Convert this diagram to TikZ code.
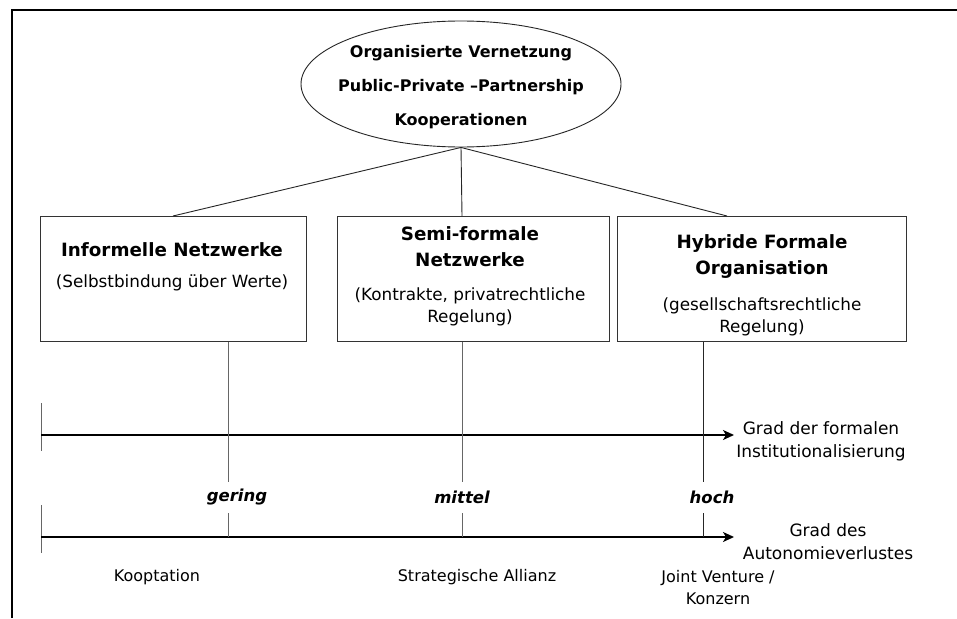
\documentclass[tikz,border=0pt]{standalone}
\usepackage{fontspec}
\setmainfont{DejaVu Sans}
\usetikzlibrary{arrows.meta,shapes.geometric}

\begin{document}
\begin{tikzpicture}[x=1pt,y=-1pt,
  frame/.style={line width=1.5pt,black},
  boxstyle/.style={draw=black!80,line width=0.9pt,rectangle,inner sep=0pt,anchor=north west},
  link/.style={draw=black!85,line width=0.9pt},
  tick/.style={draw=black!60,line width=0.9pt},
  axis/.style={draw=black,line width=1.7pt,-{Stealth[length=11pt,width=10pt,inset=3pt]}},
  titletext/.style={font=\bfseries\fontsize{18.3}{26}\selectfont,align=center,inner sep=0pt},
  subtext/.style={font=\fontsize{16.8}{22}\selectfont,align=center,inner sep=0pt},
  levtext/.style={font=\bfseries\itshape\fontsize{16.5}{18}\selectfont,inner sep=0pt,minimum height=31pt},
  axtext/.style={font=\fontsize{17}{23}\selectfont,align=center,inner sep=0pt},
  extext/.style={font=\fontsize{16}{22}\selectfont,align=center,inner sep=0pt}]
  \useasboundingbox[fill=white] (0,0) rectangle (957,618);

  % outer frame (top and left edges only)
  \draw[frame] (12,618) -- (12,10) -- (957,10);

  % top ellipse and its three lines of text
  \node[draw=black!85,line width=0.9pt,ellipse,minimum width=320pt,minimum height=126pt,inner sep=0pt] (ell) at (461,84) {};
  \node[align=center,inner sep=0pt,font=\bfseries\fontsize{16}{34}\selectfont] (ellT) at (461,87.5)
        {Organisierte Vernetzung\\Public-Private --Partnership\\Kooperationen};

  % three boxes
  \node[boxstyle,minimum width=266pt,minimum height=125pt] (inf) at (40,216) {};
  \node[boxstyle,minimum width=272pt,minimum height=125pt] (semi) at (337,216) {};
  \node[boxstyle,minimum width=289pt,minimum height=125pt] (hyb) at (617,216) {};

  \node[titletext] (infT) at (172,250) {Informelle Netzwerke};
  \node[subtext] (infS) at (172,282.5) {(Selbstbindung über Werte)};
  \node[titletext] (semiT) at (470,246.5) {Semi-formale\\Netzwerke};
  \node[subtext] (semiS) at (470,306.5) {(Kontrakte, privatrechtliche\\Regelung)};
  \node[titletext] (hybT) at (762,257) {Hybride Formale\\Organisation};
  \node[subtext] (hybS) at (762,316.5) {(gesellschaftsrechtliche\\Regelung)};

  % ellipse to boxes
  \coordinate (pInf) at (173,216);
  \coordinate (pSemi) at (462,216);
  \coordinate (pHyb) at (727,216);
  \draw[link] (ell.south) -- (pInf);
  \draw[link] (ell.south) -- (pSemi);
  \draw[link] (ell.south) -- (pHyb);

  % axes
  \coordinate (a1s) at (41,435);
  \coordinate (a1e) at (734,435);
  \coordinate (a2s) at (41,537);
  \coordinate (a2e) at (734,537);
  \draw[tick] (41,403) -- (41,451);
  \draw[tick] (41,505) -- (41,553);
  \draw[axis] (a1s) -- (a1e);
  \draw[axis] (a2s) -- (a2e);

  \node[axtext] (ax1) at (821,441) {Grad der formalen\\Institutionalisierung};
  \node[axtext] (ax2) at (828,541.5) {Grad des\\Autonomieverlustes};

  % level labels and drop lines
  \coordinate (t1) at (228,537);
  \coordinate (t2) at (462,537);
  \coordinate (t3) at (703,537);
  \node[levtext] (lo) at (237,497.5) {gering};
  \node[levtext] (mid) at (462,497.5) {mittel};
  \node[levtext] (hi) at (712,497.5) {hoch};

  \draw[tick] (inf.south -| t1) -- (t1 |- lo.north);
  \draw[tick] (t1 |- lo.south) -- (t1);
  \draw[tick] (semi.south -| t2) -- (t2 |- mid.north);
  \draw[tick] (t2 |- mid.south) -- (t2);
  \draw[link] (hyb.south -| t3) -- (t3 |- hi.north);
  \draw[link] (t3 |- hi.south) -- (t3);

  % examples
  \node[extext] (ex1) at (157,577) {Kooptation};
  \node[extext] (ex2) at (477,577) {Strategische Allianz};
  \node[extext] (ex3) at (718,588) {Joint Venture /\\Konzern};
\end{tikzpicture}
\end{document}
